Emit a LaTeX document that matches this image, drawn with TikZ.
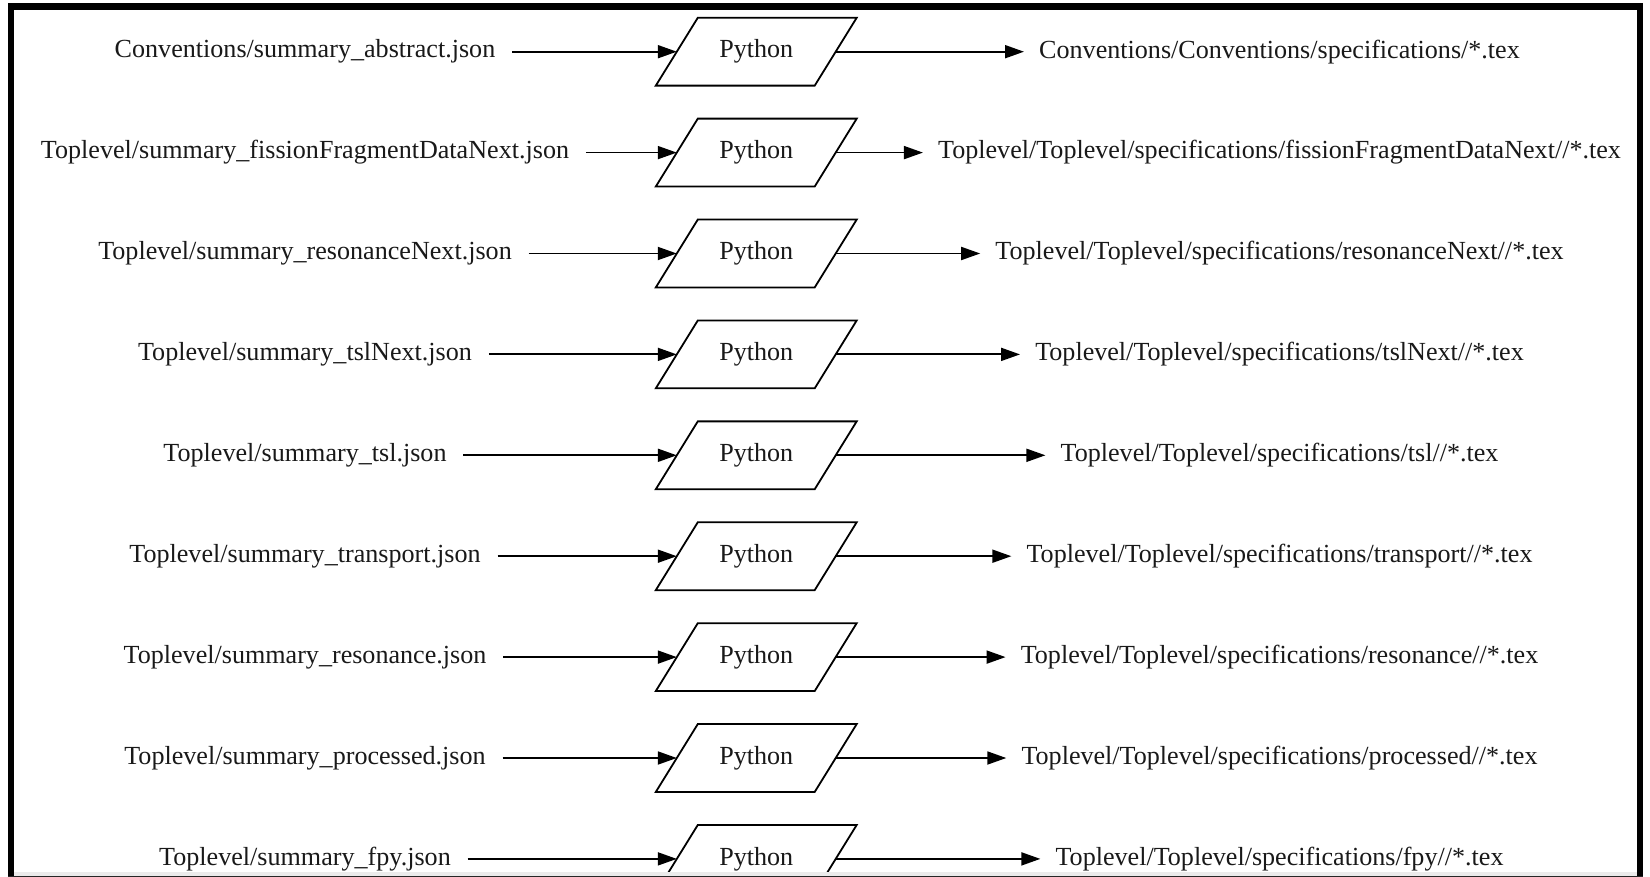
\documentclass[tikz,border=0pt]{standalone}
\usepackage{fontspec}
\setmainfont{Liberation Serif}
\usetikzlibrary{arrows.meta}
\begin{document}
\begin{tikzpicture}[x=1pt,y=-1pt,
  lbl/.style={font=\fontsize{26.1}{30}\selectfont, inner ysep=4pt, text=black!90},
  src/.style={lbl, inner xsep=16.7pt},
  dst/.style={lbl, inner xsep=15pt},
  proc/.style={lbl, minimum width=158.5pt, minimum height=67.5pt, inner sep=0pt},
  flow/.style={line width=1.8pt, -{Triangle[length=19pt,width=13pt]}},
  pgram/.style={line width=1.8pt, line join=miter},
  frame/.style={fill=black}]
\useasboundingbox (0,0) rectangle (1650,877);
\fill[white] (0,0) rectangle (1650,877);

\node[src] (s1) at (305,51.7)  {Conventions/summary\_abstract.json};
\node[src] (s2) at (305,152.6) {Toplevel/summary\_fissionFragmentDataNext.json};
\node[src] (s3) at (305,253.5) {Toplevel/summary\_resonanceNext.json};
\node[src] (s4) at (305,354.4) {Toplevel/summary\_tslNext.json};
\node[src] (s5) at (305,455.3) {Toplevel/summary\_tsl.json};
\node[src] (s6) at (305,556.2) {Toplevel/summary\_transport.json};
\node[src] (s7) at (305,657.1) {Toplevel/summary\_resonance.json};
\node[src] (s8) at (305,758.0) {Toplevel/summary\_processed.json};
\node[src] (s9) at (305,858.9) {Toplevel/summary\_fpy.json};

\node[proc] (p1) at (756.25,51.7)  {Python};
\node[proc] (p2) at (756.25,152.6) {Python};
\node[proc] (p3) at (756.25,253.5) {Python};
\node[proc] (p4) at (756.25,354.4) {Python};
\node[proc] (p5) at (756.25,455.3) {Python};
\node[proc] (p6) at (756.25,556.2) {Python};
\node[proc] (p7) at (756.25,657.1) {Python};
\node[proc] (p8) at (756.25,758.0) {Python};
\node[proc] (p9) at (756.25,858.9) {Python};

\node[dst] (d1) at (1279.5,51.7)  {Conventions/Conventions/specifications/*.tex};
\node[dst] (d2) at (1279.5,152.6) {Toplevel/Toplevel/specifications/fissionFragmentDataNext//*.tex};
\node[dst] (d3) at (1279.5,253.5) {Toplevel/Toplevel/specifications/resonanceNext//*.tex};
\node[dst] (d4) at (1279.5,354.4) {Toplevel/Toplevel/specifications/tslNext//*.tex};
\node[dst] (d5) at (1279.5,455.3) {Toplevel/Toplevel/specifications/tsl//*.tex};
\node[dst] (d6) at (1279.5,556.2) {Toplevel/Toplevel/specifications/transport//*.tex};
\node[dst] (d7) at (1279.5,657.1) {Toplevel/Toplevel/specifications/resonance//*.tex};
\node[dst] (d8) at (1279.5,758.0) {Toplevel/Toplevel/specifications/processed//*.tex};
\node[dst] (d9) at (1279.5,858.9) {Toplevel/Toplevel/specifications/fpy//*.tex};

\foreach \i in {1,...,9}{
  \draw[pgram] ([xshift=-21pt]p\i.south west) -- ([xshift=21pt]p\i.north west)
     -- ([xshift=21pt]p\i.north east) -- ([xshift=-21pt]p\i.south east) -- cycle;
  \draw[flow] (s\i) -- (p\i);
  \draw[flow] (p\i) -- (d\i);
}

% outer frame of the screenshot
\fill[frame] (8.3,3.3) rectangle (14,877);
\fill[frame] (8.3,3.3) rectangle (1642.7,10);
\fill[frame] (1636.7,3.3) rectangle (1642.7,877);
\fill[black!8] (14,871.7) rectangle (1636.7,875.5);
\fill[black!85] (8.3,875.5) rectangle (1642.7,877);
\end{tikzpicture}
\end{document}
